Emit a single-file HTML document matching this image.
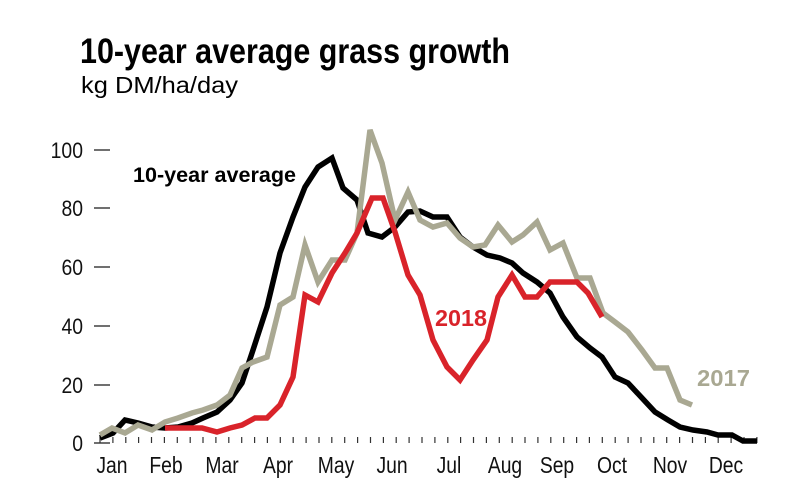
<!DOCTYPE html>
<html><head><meta charset="utf-8"><style>
html,body{margin:0;padding:0;background:#fff;}
svg{display:block;font-family:"Liberation Sans",sans-serif;}
</style></head><body>
<svg width="790" height="500" viewBox="0 0 790 500" xmlns="http://www.w3.org/2000/svg">
<rect width="790" height="500" fill="#fff"/>
<text x="80" y="63" font-size="35" font-weight="bold" textLength="430" lengthAdjust="spacingAndGlyphs">10-year average grass growth</text>
<text x="81" y="93" font-size="23" textLength="157" lengthAdjust="spacingAndGlyphs">kg DM/ha/day</text>
<g font-size="22" text-anchor="end" fill="#111" transform="scale(0.88,1)">
<text x="94.3" y="158">100</text>
<text x="94.3" y="216">80</text>
<text x="94.3" y="275">60</text>
<text x="94.3" y="334">40</text>
<text x="94.3" y="393">20</text>
<text x="94.3" y="451">0</text>
</g>
<g stroke="#222" stroke-width="1.3">
<line x1="94" y1="150" x2="110" y2="150"/>
<line x1="94" y1="208" x2="110" y2="208"/>
<line x1="94" y1="267" x2="110" y2="267"/>
<line x1="94" y1="326" x2="110" y2="326"/>
<line x1="94" y1="385" x2="110" y2="385"/>
<line x1="94" y1="443" x2="110" y2="443"/>
</g>
<path stroke="#333" stroke-width="1.2" fill="none" d="M100.0,437V443M112.9,437V443M125.8,437V443M138.6,437V443M151.5,437V443M164.4,437V443M177.3,437V443M190.2,437V443M203.0,437V443M215.9,437V443M228.8,437V443M241.7,437V443M254.6,437V443M267.4,437V443M280.3,437V443M293.2,437V443M306.1,437V443M319.0,437V443M331.8,437V443M344.7,437V443M357.6,437V443M370.5,437V443M383.4,437V443M396.2,437V443M409.1,437V443M422.0,437V443M434.9,437V443M447.8,437V443M460.6,437V443M473.5,437V443M486.4,437V443M499.3,437V443M512.2,437V443M525.0,437V443M537.9,437V443M550.8,437V443M563.7,437V443M576.6,437V443M589.4,437V443M602.3,437V443M615.2,437V443M628.1,437V443M641.0,437V443M653.8,437V443M666.7,437V443M679.6,437V443M692.5,437V443M705.4,437V443M718.2,437V443M731.1,437V443M744.0,437V443M756.9,437V443"/>
<g font-size="23" text-anchor="middle" fill="#111" transform="scale(0.84,1)">
<text x="133.3" y="473">Jan</text><text x="197.6" y="473">Feb</text><text x="264.3" y="473">Mar</text>
<text x="331" y="473">Apr</text><text x="400" y="473">May</text><text x="466.7" y="473">Jun</text>
<text x="534.5" y="473">Jul</text><text x="601.2" y="473">Aug</text><text x="663.1" y="473">Sep</text>
<text x="728.6" y="473">Oct</text><text x="797.6" y="473">Nov</text><text x="864.3" y="473">Dec</text>
</g>
<g fill="none" stroke-width="5.5" stroke-linejoin="miter" stroke-linecap="butt">
<polyline stroke="#000" points="100,438 113,433 125,420 138,423 152,427 165,428 178,427 192,423 203,418 217,412 230,400 242,383 253,350 267,307 280,253 293,217 305,187 318,167 332,158 343,188 357,200 368,233 382,237 395,227 408,212 420,211 433,217 447,217 460,237 473,247 487,255 500,258 512,263 523,273 537,282 550,293 563,317 577,337 590,348 602,357 615,377 628,383 642,398 655,412 668,420 680,427 693,430 707,432 718,435 732,435 743,441 757,441"/>
<polyline stroke="#a9a892" points="100,435 112,428 125,433 138,425 152,430 165,422 178,418 192,413 203,410 217,405 230,395 242,368 253,362 267,357 280,305 293,297 305,245 318,282 332,260 345,260 357,233 370,130 382,163 395,220 408,192 420,220 433,227 447,223 460,238 473,247 485,245 498,225 512,242 523,235 537,222 550,250 563,243 577,278 590,278 603,313 615,322 628,332 642,350 655,368 667,368 680,400 692,405"/>
<polyline stroke="#d9232a" points="165,428 202,428 217,432 230,428 242,425 255,418 267,418 280,405 293,377 305,295 318,302 332,273 345,253 357,233 372,198 383,198 395,232 408,275 420,295 433,340 447,367 460,380 473,360 487,340 498,297 512,275 525,297 537,297 550,282 577,282 588,293 602,317"/>
</g>
<text x="133" y="182" font-size="21" font-weight="bold" textLength="163" lengthAdjust="spacingAndGlyphs">10-year average</text>
<text x="435" y="326" font-size="23" font-weight="bold" fill="#d9232a" textLength="52" lengthAdjust="spacingAndGlyphs">2018</text>
<text x="697" y="386" font-size="23" font-weight="bold" fill="#a9a892" textLength="53" lengthAdjust="spacingAndGlyphs">2017</text>
</svg>
</body></html>
